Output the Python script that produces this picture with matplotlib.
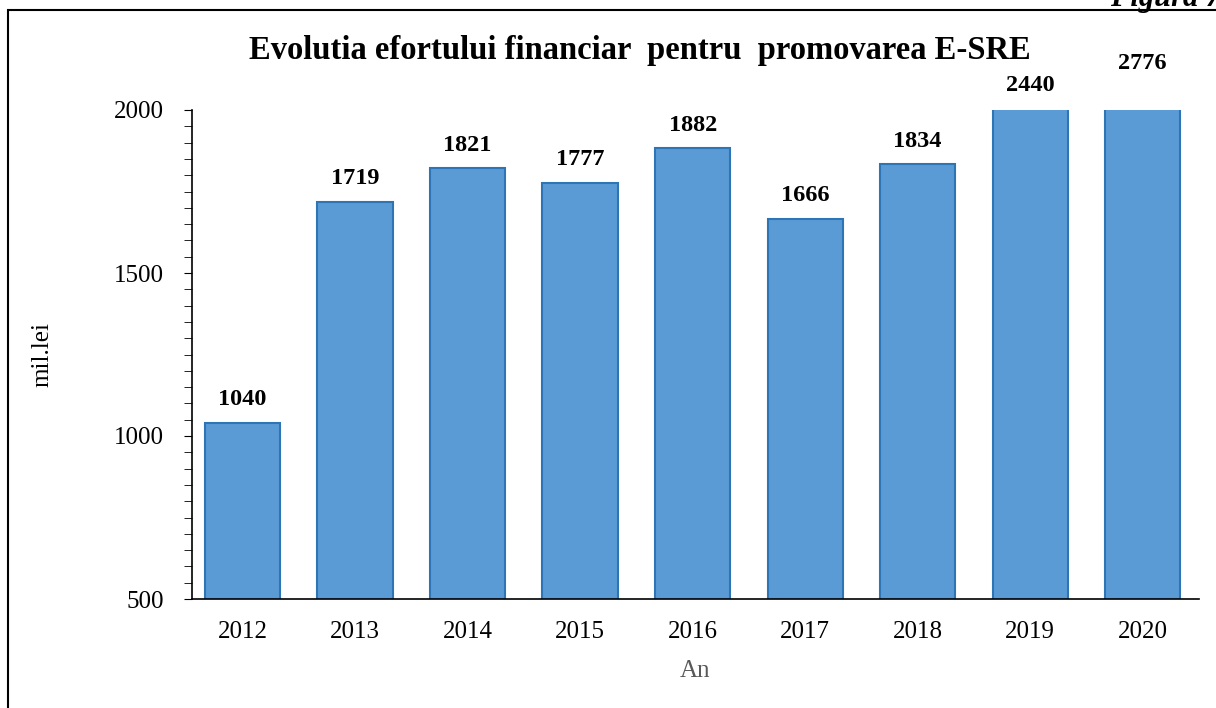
import matplotlib.pyplot as plt
from matplotlib.patches import Rectangle
from matplotlib.ticker import MultipleLocator

years = ['2012', '2013', '2014', '2015', '2016', '2017', '2018', '2019', '2020']
values = [1040, 1719, 1821, 1777, 1882, 1666, 1834, 2440, 2776]

plt.rcParams['font.family'] = ['Liberation Serif', 'DejaVu Serif']

fig = plt.figure(figsize=(12.16, 7.08), dpi=100)
ax = fig.add_axes([192 / 1216, 1 - 599 / 708, (1199 - 192) / 1216, (599 - 110) / 708])

x = list(range(len(years)))
ax.bar(x, values, width=0.67, color='#5B9BD5', edgecolor='#2E75B6', linewidth=1.5)

ymax = 2000
ax.set_ylim(500, ymax)
ax.set_xlim(-0.45, 8.5)
ax.set_xticks(x)
ax.set_xticklabels(years)
ax.yaxis.set_major_locator(MultipleLocator(500))
ax.yaxis.set_minor_locator(MultipleLocator(50))
ax.tick_params(axis='x', length=0, labelsize=18, pad=16)
ax.tick_params(axis='y', which='major', length=6, labelsize=18, pad=14, direction='out')
ax.tick_params(axis='y', which='minor', length=6, direction='out')
for s in ['top', 'right']:
    ax.spines[s].set_visible(False)
for s in ['left', 'bottom']:
    ax.spines[s].set_linewidth(1.2)

# labels of bars cut by the axis top are stacked higher, as in the source
extra = 0
for i, v in enumerate(values):
    if v > ymax:
        y = ymax
        off = 10 + extra
        extra += 16
    else:
        y = v
        off = 9
    ax.annotate(str(v), (i, y), xytext=(0, off), textcoords='offset points',
                ha='center', va='bottom', fontsize=17.5, fontweight='bold',
                annotation_clip=False)

ax.set_ylabel('mil.lei', fontsize=18, labelpad=44)
ax.set_xlabel('An', fontsize=18, color='#595959', labelpad=12)

fig.text(640 / 1216, 1 - 50 / 708, 'Evolutia efortului financiar  pentru  promovarea E-SRE',
         ha='center', va='center', fontsize=23.5, fontweight='bold')

# outer frame of the figure box
fig.patches.append(Rectangle((8 / 1216, -0.1), 1.1, 1 - 10 / 708 + 0.1,
                             transform=fig.transFigure, fill=False,
                             edgecolor='black', linewidth=1.5))
fig.text(1110 / 1216, 1 - 6 / 708, 'Figura 7', ha='left', va='baseline',
         fontsize=22, fontweight='bold', style='italic')

fig.savefig('out.png', dpi=100)
